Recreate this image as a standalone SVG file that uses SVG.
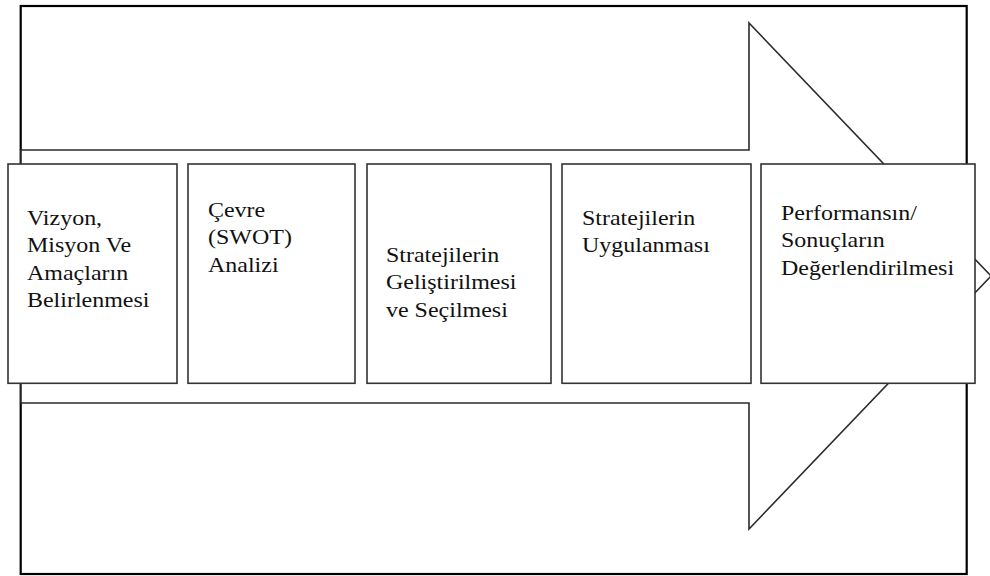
<svg xmlns="http://www.w3.org/2000/svg" width="990" height="576" viewBox="0 0 990 576">
  <style>
    .frame { fill: #ffffff; stroke: #000000; stroke-width: 2.2; }
    .arrow { fill: #ffffff; stroke: #2b2b2b; stroke-width: 1.6; stroke-linejoin: miter; }
    .box { fill: #ffffff; stroke: #333333; stroke-width: 1.6; }
    .label { fill: #111111; font-family: "Liberation Serif", "Times New Roman", serif; font-size: 22px; }
  </style>
  <rect width="990" height="576" fill="#ffffff"/>
  <g id="frame">
    <rect class="frame" x="20.7" y="6" width="946" height="568"/>
  </g>
  <g id="arrow">
    <polygon class="arrow" points="21,150 749,150 749,23 991,276 749,529 749,403 21,403"/>
  </g>
  <g id="node1">
    <rect class="box" x="8" y="164" width="169" height="219.3"/>
    <text class="label" transform="translate(27,225) scale(1.09,1)"><tspan x="0" y="0">Vizyon,</tspan><tspan x="0" y="27.5">Misyon Ve</tspan><tspan x="0" y="55">Amaçların</tspan><tspan x="0" y="82.5">Belirlenmesi</tspan></text>
  </g>
  <g id="node2">
    <rect class="box" x="188" y="164" width="167" height="219.3"/>
    <text class="label" transform="translate(208,217) scale(1.09,1)"><tspan x="0" y="0">Çevre</tspan><tspan x="0" y="27.5">(SWOT)</tspan><tspan x="0" y="55">Analizi</tspan></text>
  </g>
  <g id="node3">
    <rect class="box" x="367" y="164" width="184" height="219.3"/>
    <text class="label" transform="translate(386,262) scale(1.09,1)"><tspan x="0" y="0">Stratejilerin</tspan><tspan x="0" y="27.5">Geliştirilmesi</tspan><tspan x="0" y="55">ve Seçilmesi</tspan></text>
  </g>
  <g id="node4">
    <rect class="box" x="562" y="164" width="189" height="219.3"/>
    <text class="label" transform="translate(582,225) scale(1.09,1)"><tspan x="0" y="0">Stratejilerin</tspan><tspan x="0" y="27.5">Uygulanması</tspan></text>
  </g>
  <g id="node5">
    <rect class="box" x="761" y="164" width="214" height="219.3"/>
    <text class="label" transform="translate(781,220) scale(1.09,1)"><tspan x="0" y="0">Performansın/</tspan><tspan x="0" y="27.5">Sonuçların</tspan><tspan x="0" y="55">Değerlendirilmesi</tspan></text>
  </g>
  <g id="connectors"/>
</svg>
